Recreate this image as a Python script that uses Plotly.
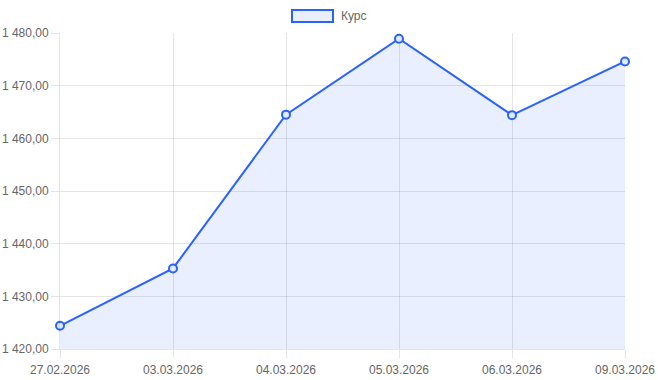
import plotly.graph_objects as go

dates = ["27.02.2026", "03.03.2026", "04.03.2026", "05.03.2026", "06.03.2026", "09.03.2026"]
rates = [1424.4, 1435.3, 1464.5, 1478.9, 1464.4, 1474.6]
y_tickvals = [1420, 1430, 1440, 1450, 1460, 1470, 1480]
y_ticktext = ["1 420,00", "1 430,00", "1 440,00", "1 450,00", "1 460,00", "1 470,00", "1 480,00"]
series_name = "Курс"

LINE = "rgb(41,98,255)"
FILL = "rgba(41,98,255,0.1)"
GRID = "rgba(0,0,0,0.1)"
FONT = "Liberation Sans, Arial, Helvetica, sans-serif"

fig = go.Figure()
fig.add_trace(go.Scatter(
    x=dates, y=rates, name=series_name, mode="lines+markers",
    fill="tozeroy", fillcolor=FILL,
    line=dict(color=LINE, width=2),
    marker=dict(symbol="circle", size=8, color="rgb(226,234,255)",
                line=dict(color=LINE, width=2)),
    cliponaxis=False, showlegend=False,
))

W, H = 658, 380
ml, mr, mt, mb = 60, 33, 33, 31
pw, ph = W - ml - mr, H - mt - mb

def px(x):
    return (x - ml) / pw

def py(y):
    return (H - mb - y) / ph

fig.add_shape(type="rect", xref="paper", yref="paper",
              x0=px(292), x1=px(333), y0=py(22), y1=py(10),
              line=dict(color=LINE, width=2), fillcolor=FILL)
fig.add_annotation(text=series_name, xref="paper", yref="paper",
                   x=px(339), y=py(16), xanchor="left", yanchor="middle",
                   showarrow=False, font=dict(size=12, color="#666", family=FONT))

fig.update_layout(
    width=W, height=H,
    margin=dict(l=ml, r=mr, t=mt, b=mb, autoexpand=False),
    paper_bgcolor="white", plot_bgcolor="white",
    font=dict(family=FONT, size=12, color="#666"),
    showlegend=False,
)
fig.update_xaxes(
    type="category", range=[0, len(dates) - 1], automargin=False,
    showgrid=True, gridcolor=GRID, gridwidth=1,
    showline=True, linecolor=GRID, linewidth=1,
    ticks="outside", ticklen=8, tickcolor=GRID,
    ticklabelstandoff=2,
    tickfont=dict(size=12, color="#666"),
    zeroline=False,
)
fig.update_yaxes(
    range=[1420, 1480], tickvals=y_tickvals, ticktext=y_ticktext, automargin=False,
    showgrid=True, gridcolor=GRID, gridwidth=1,
    showline=True, linecolor=GRID, linewidth=1,
    ticks="outside", ticklen=8, tickcolor=GRID,
    tickfont=dict(size=12, color="#666"),
    zeroline=False,
)

fig.write_html("out.html", config={"displayModeBar": False},
               post_script="document.body.style.margin='0';document.body.style.overflow='hidden';")
